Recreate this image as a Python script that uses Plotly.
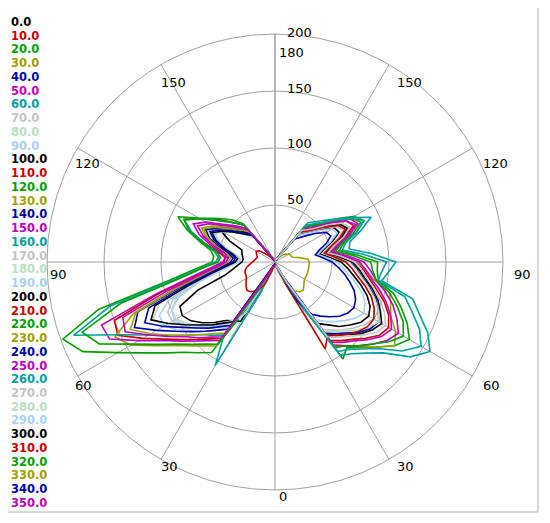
import math
import plotly.graph_objects as go

# ---------------- data ----------------
GAMMA = [0, 5, 10, 15, 20, 25, 30, 35, 40, 45, 50, 55, 60, 65, 70, 75, 80, 85, 90,
         95, 100, 105, 110, 115, 120, 125, 130, 135, 140, 145, 150, 155, 160, 165, 170, 175, 180]

C_PLANES = [0, 10, 20, 30, 40, 50, 60, 70, 80, 90, 100, 110, 120, 130, 140, 150, 160, 170,
            180, 190, 200, 210, 220, 230, 240, 250, 260, 270, 280, 290, 300, 310, 320, 330, 340, 350]
LEGEND_LABELS = ["0.0", "10.0", "20.0", "30.0", "40.0", "50.0", "60.0", "70.0", "80.0", "90.0",
                 "100.0", "110.0", "120.0", "130.0", "140.0", "150.0", "160.0", "170.0",
                 "180.0", "190.0", "200.0", "210.0", "220.0", "230.0", "240.0", "250.0",
                 "260.0", "270.0", "280.0", "290.0", "300.0", "310.0", "320.0", "330.0",
                 "340.0", "350.0"]

ANGLE_TICKS = [0, 30, 60, 90, 120, 150, 180, 210, 240, 270, 300, 330]
ANGLE_LABELS = ["0", "30", "60", "90", "120", "150", "180", "150", "120", "90", "60", "30"]
RADIAL_TICKS = [50, 100, 150, 200]
RADIAL_LABELS = ["50", "100", "150", "200"]

# intensity per C-plane, sampled at GAMMA (C0-C170 drawn right, C180-C350 drawn left)
I_C000 = [2,2,3,3,4,8,30,66,72,80,86,92,95,92,86,78,70,64,58,48,40,45,54,62,60,50,42,36,32,5,3,2,2,2,2,2,2]
I_C010 = [3,3,3,4,5,6,20,84,90,96,104,112,115,110,102,92,84,78,72,60,48,54,66,76,72,60,48,42,38,4,3,3,2,2,2,2,2]
I_C020 = [3,3,3,4,5,8,30,104,98,106,116,128,136,128,118,108,92,90,90,72,57,62,76,86,80,66,54,46,42,5,3,3,2,2,2,2,2]
I_C030 = [3,3,3,4,5,6,16,88,96,105,116,128,122,112,108,104,88,80,72,58,48,54,64,72,68,56,46,40,36,4,3,3,2,2,2,2,2]
I_C040 = [2,3,3,3,4,6,16,76,82,88,96,102,105,100,94,86,78,72,66,55,46,52,62,70,66,54,45,39,35,4,3,3,2,2,2,2,2]
I_C050 = [3,3,3,4,5,6,20,90,96,104,112,120,125,118,110,100,90,84,78,64,52,58,70,80,76,62,50,43,39,5,3,3,2,2,2,2,2]
I_C060 = [3,3,4,4,5,8,40,100,105,113,124,145,157,148,135,125,95,100,106,85,66,68,80,93,78,66,57,50,45,6,4,3,3,2,2,2,2]
I_C070 = [2,2,3,3,4,8,26,72,78,84,90,96,100,96,90,82,74,68,62,51,43,48,58,66,62,52,43,37,33,5,3,2,2,2,2,2,2]
I_C080 = [2,2,3,3,4,7,24,74,80,86,93,100,105,100,93,85,77,71,65,53,44,50,60,68,64,54,44,38,34,5,3,2,2,2,2,2,2]
I_C090 = [2,2,3,3,5,10,34,62,68,74,80,86,90,87,82,74,66,60,54,45,38,43,52,60,58,48,40,34,30,6,3,2,2,2,2,2,2]
I_C100 = [2,3,3,3,4,6,22,78,84,90,98,104,108,102,96,88,80,74,68,56,46,52,62,70,66,55,46,40,36,4,3,3,2,2,2,2,2]
I_C110 = [2,3,3,3,4,20,88,80,84,90,95,99,100,96,90,82,74,68,62,52,44,50,60,68,64,53,44,38,34,6,3,2,2,2,2,2,2]
I_C120 = [3,3,3,4,5,7,25,92,96,104,112,122,130,124,114,104,90,86,84,68,54,60,73,83,77,63,52,44,40,5,3,3,2,2,2,2,2]
I_C130 = [1,2,3,5,10,18,26,31,34,35,33,31,30,30,30,30,30,30,30,29,22,16,15,15,14,12,10,7,5,3,2,2,1,1,1,1,1]
I_C140 = [2,2,3,3,5,12,40,56,62,68,74,78,80,78,74,68,62,56,50,42,36,40,48,54,52,44,36,30,26,8,3,2,2,2,2,2,2]
I_C150 = [2,3,3,3,4,6,18,86,92,98,106,114,118,112,104,95,86,80,74,61,50,56,68,78,72,60,48,42,38,4,3,3,2,2,2,2,2]
I_C160 = [3,3,3,4,5,6,30,96,100,108,118,136,148,140,128,118,92,94,98,78,60,64,76,86,76,64,54,47,42,5,3,3,2,2,2,2,2]
I_C170 = [2,3,3,3,4,6,20,80,86,92,100,108,112,106,98,90,82,76,70,58,47,53,64,72,68,57,46,40,36,4,3,3,2,2,2,2,2]
I_C180 = [2,2,3,3,4,10,30,70,78,86,95,104,112,118,108,80,58,44,36,34,38,48,58,64,58,50,42,36,31,6,3,3,2,2,2,2,2]
I_C190 = [2,2,3,4,6,18,60,70,78,86,94,104,112,112,100,76,56,42,34,32,36,46,56,62,60,52,44,36,30,10,4,3,2,2,2,2,2]
I_C200 = [2,2,3,4,6,20,60,63,67,75,83,90,94,92,72,46,38,33,29,28,29,30,31,44,55,50,43,35,27,12,5,3,2,2,2,2,2]
I_C210 = [3,3,3,4,4,5,16,82,88,96,106,118,134,152,150,105,72,55,45,44,50,64,80,88,76,66,56,48,42,7,3,3,2,2,2,2,2]
I_C220 = [3,3,4,4,5,8,40,97,104,112,124,139,159,186,198,160,95,70,55,54,57,68,82,94,77,67,59,52,44,8,4,3,3,2,2,2,2]
I_C230 = [3,3,3,3,4,5,14,90,96,104,114,128,146,155,132,92,66,52,43,41,45,55,65,71,63,53,46,40,35,5,3,3,2,2,2,2,2]
I_C240 = [2,2,3,3,4,4,10,72,78,86,95,106,120,136,128,88,62,47,39,37,41,51,61,67,59,51,44,38,33,5,3,2,2,2,2,2,2]
I_C250 = [3,3,3,4,4,5,18,84,90,98,108,120,138,160,162,108,74,56,46,43,48,59,71,79,70,58,50,44,38,6,3,3,2,2,2,2,2]
I_C260 = [3,3,4,4,5,30,105,78,84,90,100,112,128,151,188,150,90,66,52,50,54,64,78,88,76,64,55,48,42,7,4,3,3,2,2,2,2]
I_C270 = [2,2,3,3,5,12,40,66,74,82,90,98,104,104,95,72,54,41,33,31,35,44,53,58,55,48,40,34,29,7,4,3,2,2,2,2,2]
I_C280 = [2,2,3,3,4,8,25,62,70,78,86,94,100,100,92,70,52,40,33,31,35,44,53,58,53,46,39,33,29,5,3,3,2,2,2,2,2]
I_C290 = [2,2,3,4,5,15,52,64,72,80,88,96,102,100,90,70,52,40,32,30,34,43,52,58,56,49,41,34,28,9,4,3,2,2,2,2,2]
I_C300 = [2,2,3,3,3,4,8,64,70,78,86,96,108,120,112,78,56,43,35,33,37,46,55,61,54,46,39,34,30,4,3,2,2,2,2,2,2]
I_C310 = [1,2,3,5,10,22,28,31,34,35,33,31,29,28,28,27,25,22,20,18,17,16,17,18,19,17,12,8,5,3,2,2,1,1,1,1,1]
I_C320 = [3,3,3,4,5,6,28,88,94,102,112,126,144,170,180,140,86,64,50,48,52,66,80,88,76,64,55,48,42,7,4,3,3,2,2,2,2]
I_C330 = [3,3,3,3,4,5,12,76,82,90,100,112,126,140,130,90,64,49,41,39,43,53,63,69,61,51,44,39,34,5,3,3,2,2,2,2,2]
I_C340 = [2,2,3,3,4,4,9,68,74,82,90,100,113,126,118,82,58,45,37,35,39,48,57,63,56,48,41,36,31,4,3,2,2,2,2,2,2]
I_C350 = [3,3,3,3,4,5,15,80,86,94,102,114,128,145,142,98,68,52,43,41,45,56,67,75,67,56,48,42,37,5,3,3,2,2,2,2,2]

INTENSITIES = [I_C000, I_C010, I_C020, I_C030, I_C040, I_C050, I_C060, I_C070, I_C080, I_C090,
               I_C100, I_C110, I_C120, I_C130, I_C140, I_C150, I_C160, I_C170,
               I_C180, I_C190, I_C200, I_C210, I_C220, I_C230, I_C240, I_C250, I_C260,
               I_C270, I_C280, I_C290, I_C300, I_C310, I_C320, I_C330, I_C340, I_C350]

# ---------------- style / geometry ----------------
PALETTE = ["#000000", "#c80000", "#00a000", "#a0a000", "#0000a8",
           "#c000c0", "#00a0a0", "#c4c4c4", "#b8e0c0", "#a8d0f8"]
GRID = "#a0a0a0"
OFF = 8                     # default page margin around the plot div
FW, FH = 550 - OFF, 523 - OFF
CX, CY, R = 275, 262, 228   # polar centre and radius, page pixels
RX_REF, RY_REF = 235, 222   # where the reference puts its labels
RMAX = 200


def paper(px, py):
    return (px - OFF) / FW, 1 - (py - OFF) / FH


fig = go.Figure()
for i, (c, vals) in enumerate(zip(C_PLANES, INTENSITIES)):
    theta = GAMMA if c < 180 else [360 - g for g in GAMMA]
    fig.add_trace(go.Scatterpolar(
        r=vals, theta=theta, mode="lines",
        line=dict(color=PALETTE[i % 10], width=1.6),
        name=LEGEND_LABELS[i], showlegend=False, hoverinfo="skip"))

x0, y1 = paper(CX - R, CY - R)
x1, y0 = paper(CX + R, CY + R)
fig.update_layout(
    width=FW, height=FH,
    margin=dict(l=0, r=0, t=0, b=0),
    paper_bgcolor="white",
    polar=dict(
        domain=dict(x=[x0, x1], y=[y0, y1]),
        bgcolor="white",
        radialaxis=dict(range=[0, RMAX], tickvals=RADIAL_TICKS, showticklabels=False,
                        ticks="", angle=90, showline=True, linecolor=GRID, linewidth=1,
                        gridcolor=GRID, gridwidth=1),
        angularaxis=dict(rotation=270, direction="counterclockwise",
                         tickvals=ANGLE_TICKS, showticklabels=False, ticks="",
                         showline=True, linecolor=GRID, linewidth=1,
                         gridcolor=GRID, gridwidth=1),
    ),
)

ann = []
LABEL_FONT = dict(family="DejaVu Sans", size=13, color="black")
# angular labels: top-left corner at the end of each spoke
for a, txt in zip(ANGLE_TICKS, ANGLE_LABELS):
    px = CX + RX_REF * math.sin(math.radians(a)) + 3
    py = CY + RY_REF * math.cos(math.radians(a)) + 4
    if a == 270:
        px += 6   # keep clear of the colour list
    x, y = paper(px, py)
    ann.append(dict(x=x, y=y, xref="paper", yref="paper", text=txt, showarrow=False,
                    xanchor="left", yanchor="top", borderpad=0, font=LABEL_FONT))
# radial labels: right of the vertical axis, sitting on each ring
for rv, txt in zip(RADIAL_TICKS, RADIAL_LABELS):
    x, y = paper(CX + 11, CY - rv / RMAX * RY_REF + 1)
    ann.append(dict(x=x, y=y, xref="paper", yref="paper", text=txt, showarrow=False,
                    xanchor="left", yanchor="bottom", borderpad=0, font=LABEL_FONT))
# colour legend on the left
for i, txt in enumerate(LEGEND_LABELS):
    x, y = paper(10, 22 + i * 13.74)
    ann.append(dict(x=x, y=y, xref="paper", yref="paper", text="<b>" + txt + "</b>",
                    showarrow=False, xanchor="left", yanchor="middle", borderpad=0,
                    font=dict(family="DejaVu Sans", size=11.5, color=PALETTE[i % 10])))
fig.update_layout(annotations=ann)

# light window frame on right and bottom
fx, _ = paper(538, 0)
_, fy = paper(0, 512)
fig.add_shape(type="line", xref="paper", yref="paper", x0=fx, x1=fx, y0=fy, y1=1,
              line=dict(color="#d8d8d8", width=2))
fig.add_shape(type="line", xref="paper", yref="paper", x0=0, x1=fx, y0=fy, y1=fy,
              line=dict(color="#d8d8d8", width=2))

fig.write_html("out.html")
